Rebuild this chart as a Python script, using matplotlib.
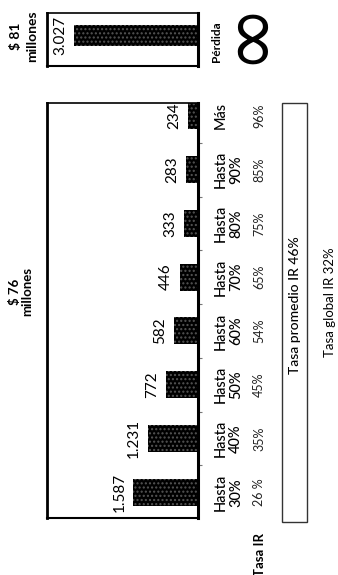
import matplotlib.pyplot as plt
import matplotlib.patches as patches
import matplotlib.transforms as mtransforms
import numpy as np

plt.rcParams['font.family'] = ['Lato', 'DejaVu Sans']

# data
loss_value = [3027]
loss_label = ["3.027"]
values = [1587, 1231, 772, 582, 446, 333, 283, 234]
value_labels = ["1.587", "1.231", "772", "582", "446", "333", "283", "234"]
categories = ["Hasta\n30%", "Hasta\n40%", "Hasta\n50%", "Hasta\n60%",
              "Hasta\n70%", "Hasta\n80%", "Hasta\n90%", "Más"]
tasa_ir = ["26 %", "35%", "45%", "54%", "65%", "75%", "85%", "96%"]

W, H = 338, 575
fig = plt.figure(figsize=(W / 100, H / 100), dpi=100)


def fx(px):
    return px / W


def fy(py):
    return 1 - py / H


def style_axes(ax):
    ax.set_xlim(3700, 0)
    ax.set_xticks([])
    for s in ax.spines.values():
        s.set_color('black')
    ax.spines['left'].set_linewidth(2)
    ax.spines['bottom'].set_linewidth(1.5)
    ax.spines['top'].set_linewidth(1.2)
    ax.spines['right'].set_linewidth(2.2)


# top chart: loss
ax1 = fig.add_axes([fx(47), fy(66), fx(198) - fx(47), fy(13) - fy(66)])
ax1.barh([0], loss_value, height=0.4, color='black', edgecolor='#555555',
         hatch='....', linewidth=0)
for v, lab in zip(loss_value, loss_label):
    ax1.annotate(lab, (v, 0), xytext=(-5, 0), textcoords='offset points',
                 ha='right', va='center', rotation=90, fontsize=11)
ax1.set_ylim(-0.58, 0.42)
ax1.set_yticks([])
style_axes(ax1)

# bottom chart: distribution
ax2 = fig.add_axes([fx(47), fy(518), fx(198) - fx(47), fy(103) - fy(518)])
y = np.arange(len(values))
ax2.barh(y, values, height=0.5, color='black', edgecolor='#555555',
         hatch='....', linewidth=0)
for yi, v, lab in zip(y, values, value_labels):
    ax2.annotate(lab, (v, yi), xytext=(-5, 0), textcoords='offset points',
                 ha='right', va='center', rotation=90, fontsize=11)
ax2.set_ylim(-0.48, len(values) - 1 + 0.24)
ax2.set_yticks(np.arange(len(values) - 1) + 0.5)
ax2.yaxis.tick_right()
ax2.tick_params(axis='y', length=3, width=0.8, color='#777777',
                labelright=False, labelleft=False, left=False)
style_axes(ax2)

# category and rate rows, aligned to bar positions
tr = mtransforms.blended_transform_factory(fig.transFigure, ax2.transData)
for yi, cat, rate in zip(y, categories, tasa_ir):
    fig.text(fx(214), yi, cat, transform=tr, rotation=90, ha='left',
             va='center', multialignment='center', fontsize=10.5,
             linespacing=1.1, fontweight='medium')
    fig.text(fx(259), yi, rate, transform=tr, rotation=90, ha='center',
             va='center', fontsize=9, color='#222222')

fig.text(fx(260), fy(555), "Tasa IR", rotation=90, ha='center', va='center',
         fontsize=9.5, fontweight='bold')

# titles
fig.text(fx(24), fy(36), "$ 81\nmillones", rotation=90, ha='center',
         va='center', fontsize=10, fontweight='bold', linespacing=1.35)
fig.text(fx(21), fy(292), "$ 76\nmillones", rotation=90, ha='center',
         va='center', fontsize=9.5, fontweight='bold', linespacing=1.1)
fig.text(fx(217), fy(42), "Pérdida", rotation=90, ha='center', va='center',
         fontsize=8.5, fontweight='bold')
fig.text(fx(247), fy(31), "∞", rotation=90, ha='center', va='center',
         fontsize=58, family=['DejaVu Sans'])

# average box
fig.add_artist(patches.Rectangle((fx(282), fy(522)), fx(307) - fx(282),
                                 fy(103) - fy(522), transform=fig.transFigure,
                                 fill=False, edgecolor='#333333', linewidth=1))
fig.text(fx(295), fy(305), "Tasa promedio IR 46%", rotation=90, ha='center',
         va='center', fontsize=10, fontweight='medium')
fig.text(fx(330), fy(302), "Tasa global IR 32%", rotation=90, ha='center',
         va='center', fontsize=9.5)

fig.savefig('out.png', dpi=100)
